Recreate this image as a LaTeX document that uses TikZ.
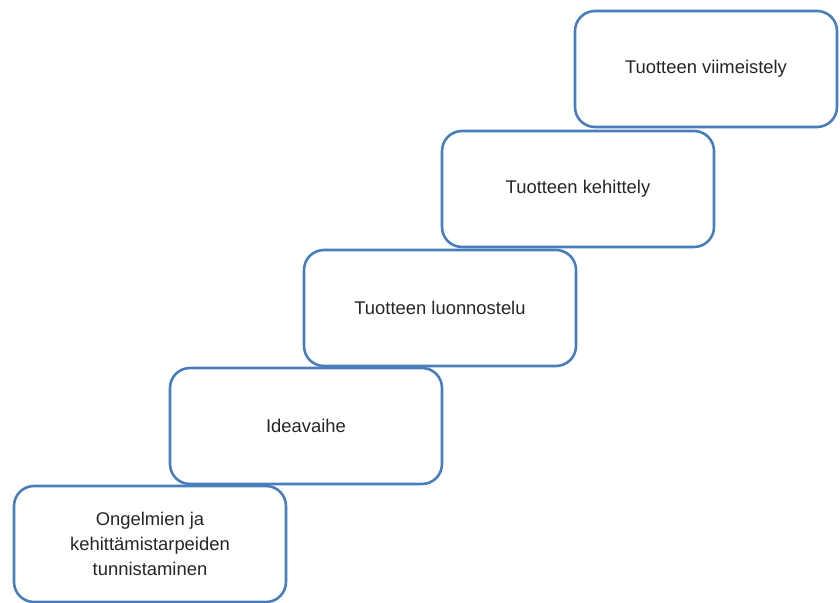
\documentclass[tikz,border=0pt]{standalone}
\usepackage{fontspec}
\setmainfont{Liberation Sans}
\definecolor{stepblue}{RGB}{74,126,187}
\tikzset{stage/.style={draw=stepblue, line width=1.3pt, rounded corners=10pt, fill=white,
  minimum width=136pt, minimum height=58pt, align=center, text=black!85,
  font=\fontsize{9.2}{12.5}\selectfont}}

\begin{document}
\begin{tikzpicture}[x=0.5pt,y=-0.5pt]
\useasboundingbox (0,0) rectangle (840,603);

\draw (150,544) node (s1) [stage] {Ongelmien ja\\kehittämistarpeiden\\tunnistaminen};
\draw (306,426) node (s2) [stage] {Ideavaihe};
\draw (440,308) node (s3) [stage] {Tuotteen luonnostelu};
\draw (578,189) node (s4) [stage] {Tuotteen kehittely};
\draw (706,69) node (s5) [stage, minimum width=131pt] {Tuotteen viimeistely};
\end{tikzpicture}
\end{document}
